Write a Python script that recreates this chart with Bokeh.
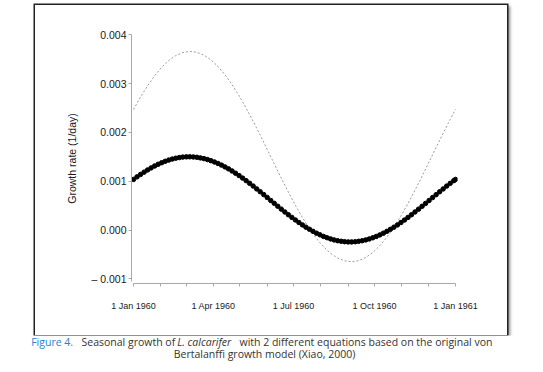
from bokeh.plotting import figure
from bokeh.models import FixedTicker, Label, ColumnDataSource, Plot, Range1d
from bokeh.layouts import column
from bokeh.embed import file_html
from bokeh.resources import INLINE

# ---- data ----
# Equation 1 (black dots): growth rate (1/day) by day of 1960
days_a = [0, 4, 8, 12, 16, 20, 24, 28, 32, 36, 40, 44, 48, 52, 56, 60, 64, 68, 72, 76,
          80, 84, 88, 92, 96, 100, 104, 108, 112, 116, 120, 124, 128, 132, 136, 140, 144,
          148, 152, 156, 160, 164, 168, 172, 176, 180, 184, 188, 192, 196, 200, 204, 208,
          212, 216, 220, 224, 228, 232, 236, 240, 244, 248, 252, 256, 260, 264, 268, 272,
          276, 280, 284, 288, 292, 296, 300, 304, 308, 312, 316, 320, 324, 328, 332, 336,
          340, 344, 348, 352, 356, 360, 364, 366]
rate_a = [1.037, 1.089, 1.139, 1.186, 1.231, 1.273, 1.312, 1.347, 1.379, 1.408, 1.433,
          1.454, 1.471, 1.484, 1.494, 1.499, 1.500, 1.497, 1.490, 1.478, 1.463, 1.444,
          1.421, 1.394, 1.364, 1.330, 1.293, 1.253, 1.210, 1.163, 1.115, 1.064, 1.012,
          0.957, 0.901, 0.843, 0.785, 0.726, 0.666, 0.606, 0.546, 0.487, 0.428, 0.370,
          0.314, 0.259, 0.206, 0.154, 0.105, 0.058, 0.015, -0.027, -0.065, -0.099, -0.131,
          -0.158, -0.182, -0.203, -0.219, -0.231, -0.239, -0.244, -0.244, -0.240, -0.231,
          -0.219, -0.203, -0.183, -0.159, -0.131, -0.100, -0.065, -0.027, 0.014, 0.058,
          0.104, 0.153, 0.204, 0.258, 0.313, 0.370, 0.427, 0.486, 0.545, 0.605, 0.665,
          0.725, 0.784, 0.842, 0.900, 0.956, 1.011, 1.037]
rate_a = [v / 1000 for v in rate_a]

# Equation 2 (grey dashed line)
days_b = [0, 8, 16, 24, 32, 40, 48, 56, 64, 72, 80, 88, 96, 104, 112, 120, 128, 136, 144,
          152, 160, 168, 176, 184, 192, 200, 208, 216, 224, 232, 240, 248, 256, 264, 272,
          280, 288, 296, 304, 312, 320, 328, 336, 344, 352, 360, 366]
rate_b = [2.470, 2.725, 2.956, 3.161, 3.334, 3.473, 3.574, 3.637, 3.660, 3.642, 3.584,
          3.486, 3.351, 3.182, 2.981, 2.752, 2.500, 2.229, 1.944, 1.651, 1.355, 1.062,
          0.778, 0.507, 0.255, 0.026, -0.174, -0.344, -0.478, -0.575, -0.632, -0.650,
          -0.627, -0.564, -0.461, -0.322, -0.149, 0.056, 0.288, 0.543, 0.816, 1.102,
          1.396, 1.692, 1.984, 2.267, 2.470]
rate_b = [v / 1000 for v in rate_b]

x_ticks = [0, 91, 182, 274, 366]
x_tick_labels = ["1 Jan 1960", "1 Apr 1960", "1 Jul 1960", "1 Oct 1960", "1 Jan 1961"]
x_minor_ticks = [31, 60, 121, 152, 213, 244, 305, 335]
y_ticks = [-0.001, 0.0, 0.001, 0.002, 0.003, 0.004]
y_tick_labels = ["\u2013 0.001", "0.000", "0.001", "0.002", "0.003", "0.004"]
y_title = "Growth rate (1/day)"
cap_fig = "Figure 4."
cap_a = "Seasonal growth of"
cap_italic = "L. calcarifer"
cap_b = "with 2 different equations based on the original von"
cap_line2 = "Bertalanffi growth model (Xiao, 2000)"

# ---- chart (the framed box) ----
p = figure(width=472, height=330, output_backend="svg", toolbar_location=None,
           x_range=(-2.3, 368.3), y_range=(-0.001096, 0.004027),
           min_border_left=96, min_border_right=50, min_border_top=28,
           min_border_bottom=52)
p.title.visible = False
p.outline_line_color = None
p.xgrid.visible = False
p.ygrid.visible = False
p.background_fill_color = "white"
p.border_fill_color = "white"
p.margin = (5, 0, 0, 35)
p.frame_align = False
p.styles = {"box-shadow": "0 0 0 1.5px #222222, 2px 2px 3px 1px #8a8a8a"}

axis_col = "#a8a8a8"
xa = p.xaxis[0]
xa.ticker = FixedTicker(ticks=x_ticks, minor_ticks=x_minor_ticks)
xa.major_label_overrides = dict(zip(x_ticks, x_tick_labels))
xa.bounds = (0, 366)
ya = p.yaxis[0]
ya.ticker = FixedTicker(ticks=y_ticks, minor_ticks=[])
ya.major_label_overrides = dict(zip(y_ticks, y_tick_labels))
ya.bounds = (-0.00105, 0.004)
for ax in (xa, ya):
    ax.axis_line_color = axis_col
    ax.major_tick_line_color = axis_col
    ax.minor_tick_line_color = axis_col
    ax.major_tick_out = 3
    ax.major_tick_in = 0
    ax.minor_tick_out = 3
    ax.minor_tick_in = 0
    ax.major_label_text_color = "#1a1a1a"
    ax.major_label_text_font = "Liberation Sans"
xa.major_label_text_font_size = "9px"
xa.major_label_standoff = 14
ya.major_label_text_font_size = "10.5px"
ya.major_label_standoff = 2
ya.axis_label = y_title
ya.axis_label_text_font = "Liberation Sans"
ya.axis_label_text_font_size = "10.5px"
ya.axis_label_text_font_style = "normal"
ya.axis_label_text_color = "#1a1a1a"
ya.axis_label_standoff = 10

src_b = ColumnDataSource(dict(x=days_b, y=rate_b))
p.line("x", "y", source=src_b, line_color="#9a9a9a", line_width=1, line_dash="2 2")
src_a = ColumnDataSource(dict(x=days_a, y=rate_a))
p.scatter("x", "y", source=src_a, size=4.5, marker="circle", fill_color="black",
          line_color="black")

# ---- caption ----
cap = Plot(width=543, height=30, x_range=Range1d(0, 543), y_range=Range1d(30, 0),
           min_border=0, toolbar_location=None, outline_line_color=None,
           output_backend="svg", title=None)
cap.margin = (0, 0, 0, 0)
cap.frame_align = False
cap_font = "Open Sans"
cap_size = "10.5px"
y1, y2 = 6, 18
for txt, x, col, style in [(cap_fig, 30.7, "#2a7fd0", "normal"),
                           (cap_a, 81, "#333333", "normal"),
                           (cap_italic, 176.7, "#333333", "italic"),
                           (cap_b, 239, "#333333", "normal")]:
    cap.add_layout(Label(x=x, y=y1, text=txt, text_font=cap_font,
                         text_font_size=cap_size, text_font_style=style,
                         text_color=col, text_align="left", text_baseline="middle"))
cap.add_layout(Label(x=264, y=y2, text=cap_line2, text_font=cap_font,
                     text_font_size=cap_size, text_color="#333333",
                     text_align="center", text_baseline="middle"))

layout = column(p, cap, spacing=0)
open("out.html", "w").write(file_html(layout, INLINE))
